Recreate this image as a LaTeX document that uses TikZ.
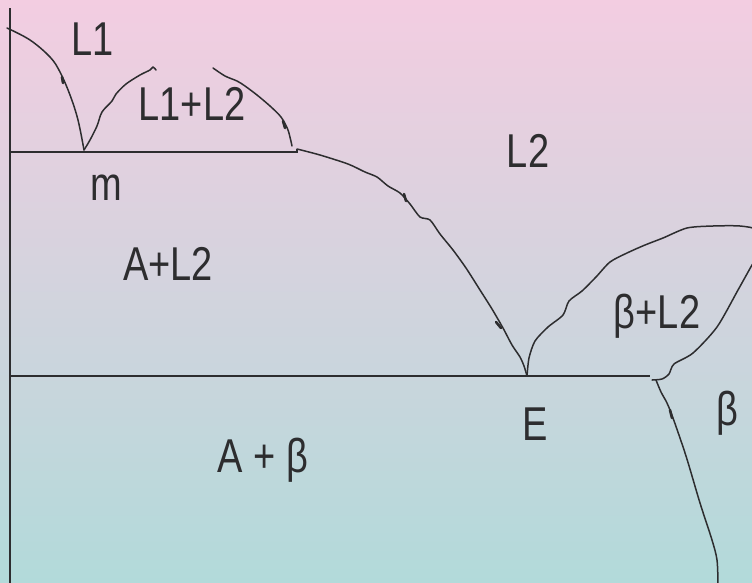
\documentclass[tikz,border=0pt]{standalone}
\usepackage{fontspec}
\setmainfont{Liberation Sans}
\definecolor{bgtop}{RGB}{243,205,225}
\definecolor{bgbot}{RGB}{178,218,218}
\definecolor{ink}{RGB}{45,45,47}
\begin{document}
\begin{tikzpicture}[x=1pt,y=-1pt,
  curve/.style={draw=ink, line width=1.5pt, line join=round, line cap=round},
  axis/.style={draw=ink, line width=1.8pt},
  barb/.style={draw=ink, line width=2.6pt, line cap=round},
  lab/.style={text=ink, inner sep=0pt, anchor=base, font=\fontsize{38}{40}\selectfont}]
\useasboundingbox (0,0) rectangle (752,582);
\shade[top color=bgtop, bottom color=bgbot] (0,0) rectangle (752,582);
\begin{scope}
\clip (0,0) rectangle (752,582);
% key points
\coordinate (axtop) at (10,8);
\coordinate (axbot) at (10,584);
\coordinate (m) at (84,152);
\coordinate (mr) at (297,152);
\coordinate (lm) at (10,152);
\coordinate (le) at (10,376);
\coordinate (E) at (527,376);
\coordinate (er) at (650,376);
% axes and isotherms
\draw[axis] (axtop) -- (axbot);
\draw[axis] (lm) -- (mr) -- ++(0,-3);
\draw[axis] (le) -- (er);
% L1 liquidus
\draw[curve] plot[smooth, tension=0.6] coordinates {(7,28) (30,40) (50,57) (60,72) (70,95) (78,120) (84,150)};
% miscibility gap left
\draw[curve] plot[smooth, tension=0.5] coordinates {(84,150) (90,140) (97,126) (102,112) (112,101) (116,94) (126,84) (140,75) (150,70) (153,67) (156,70)};
% miscibility gap right
\draw[curve] plot[smooth, tension=0.5] coordinates {(213,68) (225,76) (237,81) (245,86) (257,95) (270,106) (281,117) (288,130) (292,146)};
% L2 liquidus to E
\draw[curve] plot[smooth, tension=0.45] coordinates {(297,149) (320,155) (348,164) (365,172) (377,177) (388,186) (400,193) (410,204) (420,217) (430,220) (440,234) (453,250) (466,268) (480,290) (492,309) (503,328) (512,345) (520,357) (524,366) (527,376)};
% beta liquidus loop
\draw[curve] plot[smooth, tension=0.45] coordinates {(527,376) (529,358) (535,341) (548,327) (563,315) (569,301) (582,291) (596,277) (610,262) (627,253) (645,245) (663,238) (687,228) (713,226) (740,226) (758,230) (764,245) (752,265) (738,290) (717,327) (693,353) (674,364) (669,374) (662,379) (652,380)};
% beta solvus
\draw[curve] plot[smooth, tension=0.5] coordinates {(656,380) (661,392) (667,403) (673,418) (686,456) (700,503) (712,540) (717,560) (718,584)};
% small barbs
\draw[barb] (62,77) -- (63,83);
\draw[barb] (283,121) -- (285,128);
\draw[barb] (404,194) -- (406,201);
\draw[barb] (496,322) -- (501,328);
\draw[barb] (670,410) -- (672,418);
\end{scope}
% labels
\node[lab] (tL1) at (93,55) {\scalebox{1}[1.25]{L1}};
\node[lab] (tL12) at (192,120) {\scalebox{1}[1.25]{L1+L2}};
\node[lab] (tm) at (106,200) {\scalebox{1}[1.25]{m}};
\node[lab] (tL2) at (528,167) {\scalebox{1}[1.25]{L2}};
\node[lab] (tAL2) at (168,280) {\scalebox{1}[1.25]{A+L2}};
\node[lab] (tbL2) at (657,328) {\scalebox{1}[1.25]{β+L2}};
\node[lab] (tE) at (535,440) {\scalebox{1}[1.25]{E}};
\node[lab] (tb) at (727,425) {\scalebox{1}[1.25]{β}};
\node[lab] (tAb) at (263,472) {\scalebox{1}[1.25]{A + β}};
\end{tikzpicture}
\end{document}
